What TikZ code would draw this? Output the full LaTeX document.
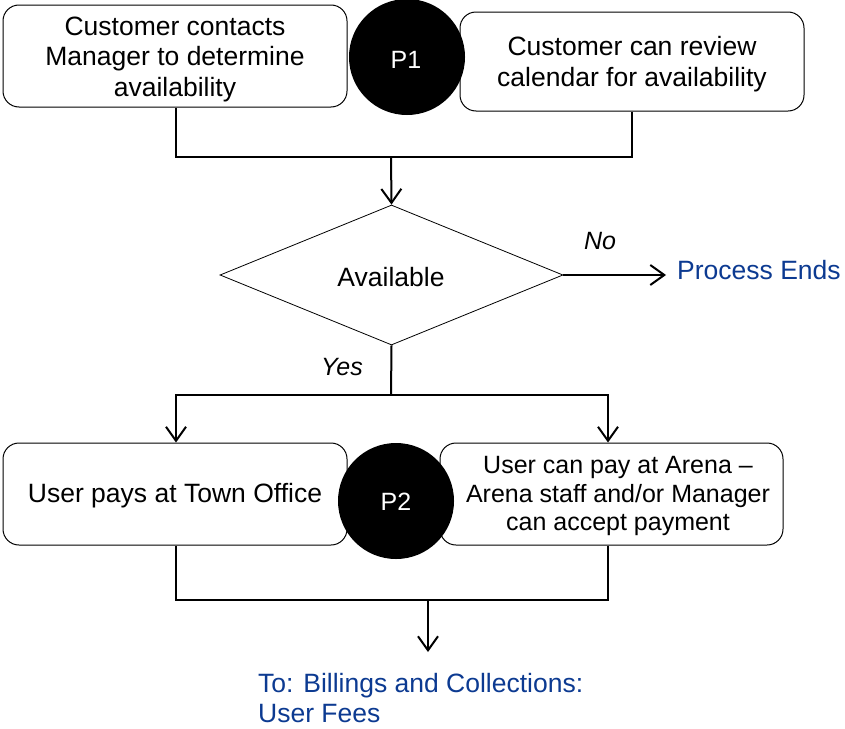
\documentclass[tikz,border=0pt]{standalone}
\usepackage{fontspec}
\setmainfont{Liberation Sans}
\usetikzlibrary{arrows.meta,shapes.geometric}
\definecolor{linkblue}{RGB}{12,58,145}
\begin{document}
\begin{tikzpicture}[x=1pt,y=-1pt,
  procbox/.style={draw,line width=1pt,rounded corners=16pt,inner sep=0pt},
  boxtext/.style={align=center,inner sep=0pt,font=\fontsize{26.5}{30.5}\selectfont},
  conn/.style={line width=2pt},
  arr/.style={line width=2pt,-{Straight Barb[length=14pt,width=20pt,line width=2pt]}},
  blob/.style={circle,fill=black,text=white,minimum size=116pt,inner sep=0pt,font=\fontsize{25}{28}\selectfont},
  lbl/.style={font=\fontsize{25}{30}\selectfont\itshape,inner sep=0pt},
  bluetxt/.style={text=linkblue,font=\fontsize{26.5}{30}\selectfont,inner sep=0pt}
]
\useasboundingbox (0,0) rectangle (845,728);
\node[procbox,minimum width=344pt,minimum height=102pt] (A) at (175,56) {};
\node[boxtext] (At) at (175,59) {Customer contacts\\Manager to determine\\availability};
\node[procbox,minimum width=344pt,minimum height=99pt] (B) at (632,61.5) {};
\node[boxtext] (Bt) at (632,64) {Customer can review\\calendar for availability};
\node[blob] (P1) at (407,57) {};
\node[text=white,font=\fontsize{25}{28}\selectfont,inner sep=0pt] (P1t) at (406,60) {P1};

\node[draw,line width=0.8pt,diamond,minimum width=343pt,minimum height=140pt,inner sep=0pt] (D) at (391.5,275) {};
\node[boxtext] (Dt) at (391,277) {Available};

\node[procbox,minimum width=344pt,minimum height=102pt] (C) at (175,494) {};
\node[boxtext] (Ct) at (175,496) {User pays at Town Office};
\node[procbox,minimum width=343pt,minimum height=102pt] (E) at (611.5,494) {};
\node[boxtext,font=\fontsize{25}{28.5}\selectfont] (Et) at (618,496) {User can pay at Arena --\\Arena staff and/or Manager\\can accept payment};
\node[blob] (P2) at (396,501) {};
\node[text=white,font=\fontsize{25}{28}\selectfont,inner sep=0pt] (P2t) at (396,502) {P2};

\coordinate (j1) at (391,157);
\coordinate (j2) at (391,395);
\coordinate (j3) at (428,600);
\coordinate (pe) at (666,275);
\coordinate (end) at (428,652);

\draw[conn] (A.south -| 176,0) |- (j1);
\draw[conn] (B.south) |- (j1);
\draw[arr] (j1) -- (D.north);

\draw[arr] (D.east) -- (pe);
\node[lbl] (no) at (600,241) {No};
\node[bluetxt,anchor=west] (ends) at (677,270) {Process Ends};

\draw[conn] (D.south) -- (j2);
\node[lbl] (yes) at (342,367) {Yes};
\draw[arr] (j2) -| (C.north -| 176,0);
\draw[arr] (j2) -| (E.north -| 608,0);

\draw[conn] (C.south -| 176,0) |- (j3);
\draw[conn] (E.south -| 608,0) |- (j3);
\draw[arr] (j3) -- (end);

\node[bluetxt,anchor=north west,align=left] (bill) at (258,673) {To: Billings and Collections:\\User Fees};
\end{tikzpicture}
\end{document}
